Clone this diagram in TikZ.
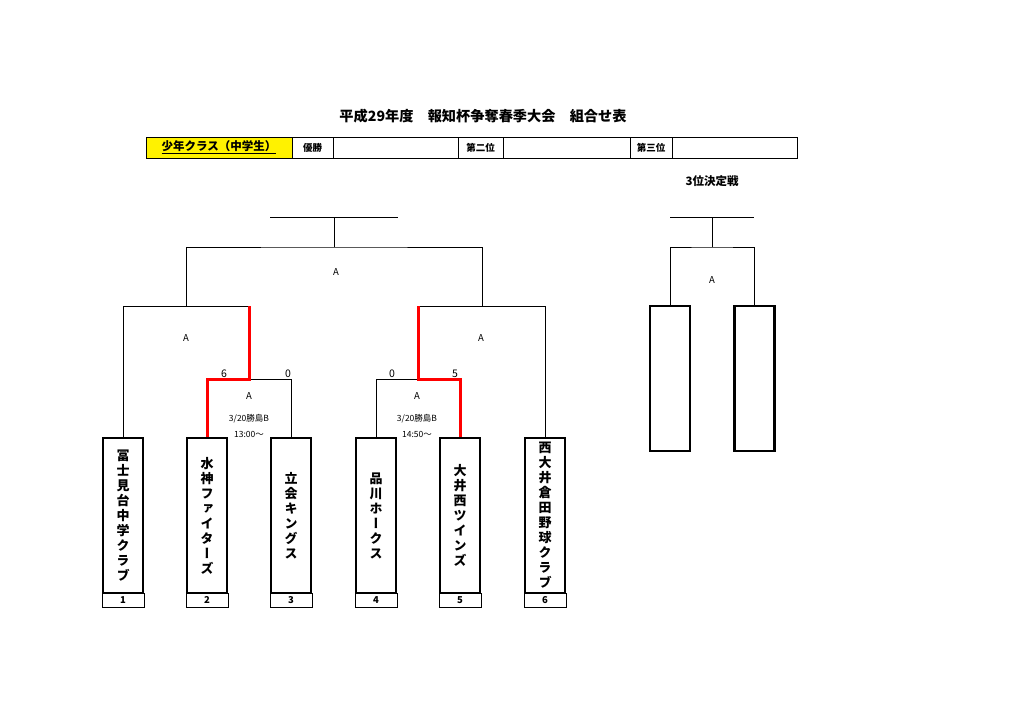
\documentclass[tikz,border=0pt]{standalone}
\usepackage{fontspec}
\setmainfont{Noto Sans CJK JP}
\newfontfamily\tatefont[RawFeature=+vert]{Noto Sans CJK JP}
\usetikzlibrary{positioning, calc}

\begin{document}
\begin{tikzpicture}[x=1pt, y=-1pt,
    cell/.style={rectangle, draw, line width=0.8pt, minimum height=21pt, inner sep=0pt, outer sep=0pt, font=\bfseries\fontsize{9.5}{10}\selectfont},
    team/.style={rectangle, draw, line width=2.4pt, minimum width=40pt, minimum height=155pt, inner sep=0pt, align=center, font=\tatefont\bfseries\fontsize{13}{15}\selectfont},
    num/.style={rectangle, draw, line width=0.8pt, minimum width=42pt, minimum height=14pt, inner sep=0pt, font=\bfseries\fontsize{9.5}{10}\selectfont},
    lbl/.style={inner sep=0pt, font=\fontsize{9.5}{10}\selectfont},
    date/.style={inner sep=0pt, font=\fontsize{8.5}{9}\selectfont},
    score/.style={inner sep=0pt, font=\fontsize{10.5}{11}\selectfont},
    win/.style={red, line width=3pt},
    line/.style={line width=0.8pt},
]
\useasboundingbox[fill=white] (0,0) rectangle (1024,724);

% Title
\node[inner sep=0pt, font=\bfseries\fontsize{14.2}{15}\selectfont] (title) at (483,116) {平成29年度　報知杯争奪春季大会　組合せ表};

% Header row
\node[cell, fill=yellow, minimum width=146pt, font=\bfseries\fontsize{11.5}{12}\selectfont] (cls) at (219,147.5) {\underline{少年クラス（中学生）}};
\node[cell, minimum width=41pt, right=0pt of cls] (first) {優勝};
\node[cell, minimum width=125pt, right=0pt of first] (firstv) {};
\node[cell, minimum width=45pt, right=0pt of firstv] (second) {第二位};
\node[cell, minimum width=127pt, right=0pt of second] (secondv) {};
\node[cell, minimum width=42pt, right=0pt of secondv] (third) {第三位};
\node[cell, minimum width=125pt, right=0pt of third] (thirdv) {};

% Teams
\node[team] (t1) at (123,515.5) {冨\\士\\見\\台\\中\\学\\ク\\ラ\\ブ};
\node[team] (t2) at (207,515.5) {水\\神\\フ\\ァ\\イ\\タ\\ー\\ズ};
\node[team] (t3) at (291,515.5) {立\\会\\キ\\ン\\グ\\ス};
\node[team] (t4) at (376,515.5) {品\\川\\ホ\\ー\\ク\\ス};
\node[team] (t5) at (460,515.5) {大\\井\\西\\ツ\\イ\\ン\\ズ};
\node[team] (t6) at (545,515.5) {西\\大\\井\\倉\\田\\野\\球\\ク\\ラ\\ブ};
\foreach \i in {1,...,6}
  \node[num, below=-1.2pt of t\i] (n\i) {\i};

% Bracket points
\coordinate (m1) at (249,379);
\coordinate (m2) at (418,379);
\coordinate (s1) at (186,306);
\coordinate (s2) at (482,306);
\coordinate (f) at (334,247);
\coordinate (top) at (334,217);

% Round 1
\draw[line] (t3.north) |- (m1);
\draw[line] (t4.north) |- (m2);
\node[score] (sc2) at (224,374) {6};
\node[score] (sc3) at (288,374) {0};
\node[score] (sc4) at (392,374) {0};
\node[score] (sc5) at (455,374) {5};
\node[lbl] (a1) at (249,396) {A};
\node[date] (d1) at (249,419) {3/20勝島B};
\node[date] (h1) at (249,434) {13:00～};
\node[lbl] (a2) at (417,396) {A};
\node[date] (d2) at (417,419) {3/20勝島B};
\node[date] (h2) at (417,434) {14:50～};

% Semi finals
\draw[line] (t1.north) |- (m1 |- s1);
\draw[line] (t6.north) |- (m2 |- s2);
\draw[win] (t2.north) |- (m1) -- (m1 |- s1);
\draw[win] (t5.north) |- (m2) -- (m2 |- s2);
\node[lbl] (a3) at (186,338) {A};
\node[lbl] (a4) at (481,338) {A};

% Final
\draw[line] (s1) |- (f) -| (s2);
\draw[line] (f) -- (top);
\draw[line] ([xshift=-64pt]top) -- ([xshift=64pt]top);
\node[lbl] (a5) at (336,272) {A};

% Third place
\node[inner sep=0pt, font=\bfseries\fontsize{11.5}{12}\selectfont] (tp) at (712,181) {3位決定戦};
\node[team, minimum height=145pt] (p1) at (670,378.5) {};
\node[team, minimum height=145pt] (p2) at (754.5,378.5) {};
\coordinate (pf) at (712,247);
\coordinate (ptop) at (712,217);
\draw[line] (p1.north) |- (pf) -| (p2.north);
\draw[line] (pf) -- (ptop);
\draw[line] ([xshift=-42pt]ptop) -- ([xshift=42pt]ptop);
\node[lbl] (a6) at (712,280) {A};
\end{tikzpicture}
\end{document}
